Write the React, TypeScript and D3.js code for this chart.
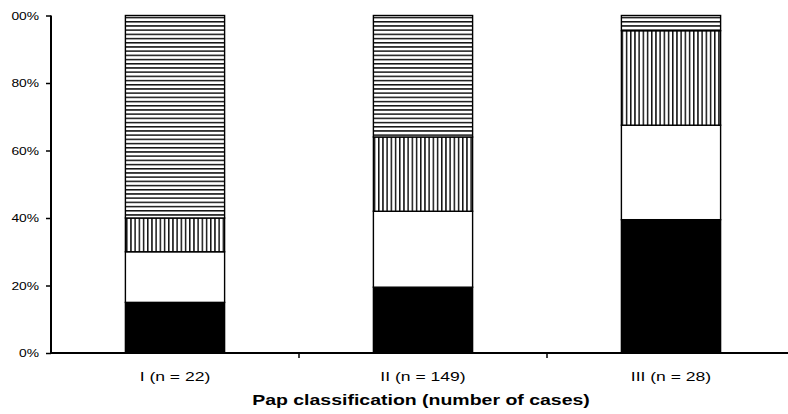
import React, { useRef, useEffect } from "react";
import * as d3 from "d3";

// categories along the x axis
const categories = ["I (n = 22)", "II (n = 149)", "III (n = 28)"];
// stacked segment sizes (percent), bottom to top
const solidValues = [15, 19.5, 39.5];
const blankValues = [15, 22.5, 28];
const verticalValues = [10, 22, 28];
const horizontalValues = [60, 36, 4.5];
const seriesKeys = ["solid", "blank", "vertical", "horizontal"];
const yTicks = [0, 20, 40, 60, 80, 100];
const xTitle = "Pap classification (number of cases)";

// the scan is stretched sideways, so glyphs get widened
const stretch = (sel: any, factor: number) => {
    sel.each(function (this: SVGTextElement) {
        const el = d3.select(this);
        const x0 = +(el.attr("x") || 0);
        el.attr("x", x0 / factor).attr("transform", `scale(${factor},1)`);
    });
};

const App = () => {
    const chartRef = useRef<SVGSVGElement>(null);

    useEffect(() => {
        drawChart();
    }, []);

    const drawChart = () => {
        if (!chartRef.current) return;
        const width = 788;
        const axisX = 51;

        const svg = d3.select(chartRef.current);
        svg.selectAll("*").remove();

        const data = categories.map((c, i) => ({
            name: c,
            solid: solidValues[i],
            blank: blankValues[i],
            vertical: verticalValues[i],
            horizontal: horizontalValues[i],
        }));

        const defs = svg.append("defs");
        const h = defs.append("pattern")
            .attr("id", "hlines")
            .attr("patternUnits", "userSpaceOnUse")
            .attr("width", 8)
            .attr("height", 4.2);
        h.append("rect").attr("width", 8).attr("height", 4.2).attr("fill", "#fff");
        h.append("rect").attr("y", 0).attr("width", 8).attr("height", 1.5).attr("fill", "#111");

        const v = defs.append("pattern")
            .attr("id", "vlines")
            .attr("patternUnits", "userSpaceOnUse")
            .attr("width", 4.2)
            .attr("height", 8);
        v.append("rect").attr("width", 4.2).attr("height", 8).attr("fill", "#fff");
        v.append("rect").attr("x", 0).attr("width", 1.5).attr("height", 8).attr("fill", "#111");

        defs.append("clipPath")
            .attr("id", "labelclip")
            .append("rect")
            .attr("x", 11)
            .attr("y", 0)
            .attr("width", 777)
            .attr("height", 414);

        const fills: Record<string, string> = {
            solid: "#000",
            blank: "#fff",
            vertical: "url(#vlines)",
            horizontal: "url(#hlines)",
        };

        const x = d3.scaleBand()
            .domain(categories)
            .range([axisX, 795])
            .padding(0);

        const y = d3.scaleLinear()
            .domain([0, 100])
            .range([353, 15.5]);

        const stack = d3.stack<any>().keys(seriesKeys)(data);
        const barW = x.bandwidth() * 0.4;

        svg.append("g")
            .selectAll("g")
            .data(stack)
            .enter()
            .append("g")
            .attr("fill", (d) => fills[d.key])
            .selectAll("rect")
            .data((d) => d)
            .enter()
            .append("rect")
            .attr("x", (d: any) => x(d.data.name)! + x.bandwidth() / 2 - barW / 2)
            .attr("y", (d) => y(d[1]))
            .attr("width", barW)
            .attr("height", (d) => y(d[0]) - y(d[1]))
            .attr("stroke", "#000")
            .attr("stroke-width", 1.4);

        const font = "'Liberation Sans', Arial, sans-serif";

        // y axis (the scan cuts off the "1" of 100%)
        const yAxis = svg.append("g")
            .attr("clip-path", "url(#labelclip)")
            .append("g")
            .attr("transform", `translate(${axisX},0)`)
            .call(d3.axisLeft(y).tickValues(yTicks).tickSize(5).tickPadding(7).tickFormat((d) => `${d}%`));
        yAxis.select(".domain").attr("stroke-width", 2).attr("d", `M0,${y(100)}V${y(0) + 1}`);
        yAxis.selectAll(".tick line").attr("stroke-width", 1.5);
        const yLabels = yAxis.selectAll("text")
            .style("font-family", font)
            .style("font-size", "11.8px")
            .attr("fill", "#000");
        stretch(yLabels, 1.17);

        // x axis
        const xAxis = svg.append("g")
            .attr("transform", `translate(0,${y(0)})`);
        xAxis.append("line")
            .attr("x1", axisX)
            .attr("x2", width)
            .attr("stroke", "#000")
            .attr("stroke-width", 1.8);
        xAxis.selectAll(".sep")
            .data(categories.slice(1))
            .enter()
            .append("line")
            .attr("class", "sep")
            .attr("x1", (d) => x(d)!)
            .attr("x2", (d) => x(d)!)
            .attr("y1", 0)
            .attr("y2", 5)
            .attr("stroke", "#000")
            .attr("stroke-width", 1.5);
        const catLabels = xAxis.selectAll(".cat")
            .data(categories)
            .enter()
            .append("text")
            .attr("class", "cat")
            .attr("x", (d) => x(d)! + x.bandwidth() / 2)
            .attr("y", 28)
            .attr("text-anchor", "middle")
            .style("font-family", font)
            .style("font-size", "13.5px")
            .text((d) => d);
        stretch(catLabels, 1.3);

        const title = svg.append("text")
            .attr("x", 421)
            .attr("y", 405)
            .attr("text-anchor", "middle")
            .style("font-family", font)
            .style("font-size", "15px")
            .style("font-weight", "bold")
            .text(xTitle);
        stretch(title, 1.3);
    };

    return (
        <svg
            ref={chartRef}
            width={788}
            height={414}
            style={{ position: "absolute", left: 0, top: 0, background: "#fff", overflow: "hidden" }}
        />
    );
};

export default App;
